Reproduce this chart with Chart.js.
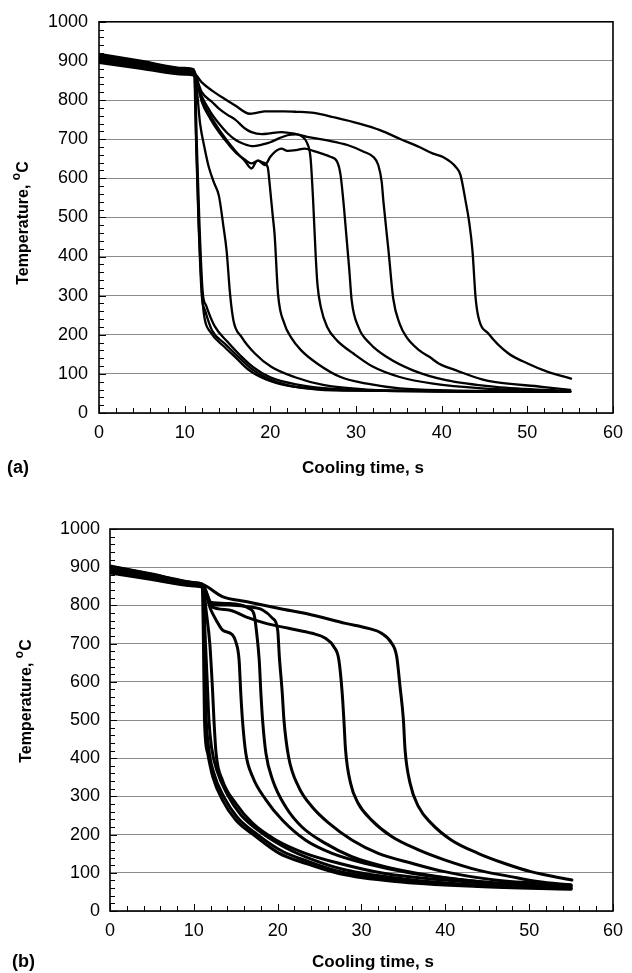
<!DOCTYPE html>
<html>
<head>
<meta charset="utf-8">
<script src="https://cdn.jsdelivr.net/npm/chart.js@4.4.1/dist/chart.umd.min.js"></script>
<style>
    html, body { margin: 0; padding: 0; background: #fff; }
    #wrap { position: relative; width: 632px; height: 973px; }
    .box { position: absolute; left: 0; width: 632px; }
</style>
</head>
<body>
<div id="wrap">
    <div class="box" style="top:0;height:490px"><canvas id="chartA"></canvas></div>
    <div class="box" style="top:490px;height:483px"><canvas id="chartB"></canvas></div>
</div>
<script>
"use strict";

/* axis labels */
var xLabels = [0, 10, 20, 30, 40, 50, 60];
var yLabels = [0, 100, 200, 300, 400, 500, 600, 700, 800, 900, 1000];

/* (a) cooling curves: [time s, temperature C] */
var a1 = [[0, 918], [5, 900], [10, 882], [11.1, 878], [11.3, 720], [11.6, 500], [12.0, 300], [12.4, 261], [13.2, 211], [14.7, 177], [16.3, 143], [17.8, 113], [19.7, 88], [22, 71], [25.5, 60], [31.3, 57], [40, 55], [55, 54]];
var a2 = [[0, 912], [5, 895], [10, 876], [11.2, 872], [11.4, 700], [11.7, 500], [12.1, 310], [12.5, 275], [13.5, 222], [15, 182], [16.5, 147], [18, 117], [20, 91], [23, 73], [27, 62], [35, 57], [45, 55], [55, 55]];
var a3 = [[0, 905], [5, 888], [10, 872], [11.15, 868], [11.35, 700], [11.65, 480], [12.05, 300], [12.3, 245], [13, 207], [14.5, 172], [16, 141], [17.5, 110], [19.5, 86], [22, 70], [26, 61], [35, 56], [55, 54]];
var a4 = [[0, 900], [5, 884], [10, 869], [11.1, 865], [11.3, 853], [11.8, 740], [12.3, 680], [12.8, 630], [13.4, 590], [14.0, 555], [14.5, 481], [14.9, 414], [15.3, 304], [15.7, 236], [16.65, 194], [18.2, 152], [20.1, 118], [22.8, 92], [26.3, 71], [31.3, 60], [40, 56], [55, 54]];
var a5 = [[0, 895], [5, 880], [10, 865], [11.1, 862], [12, 800], [13, 760], [14, 725], [15, 695], [16, 668], [17, 645], [17.8, 625], [18.5, 645], [19.2, 640], [19.7, 628], [19.9, 590], [20.1, 545], [20.3, 500], [20.5, 456], [20.9, 304], [21.65, 228], [22.4, 194], [23.6, 160], [25.5, 126], [28.2, 92], [31.3, 75], [35.1, 63], [40.9, 58], [55, 55]];
var a6 = [[0, 908], [5, 891], [10, 874], [11.1, 870], [12, 810], [13, 770], [14, 740], [15, 715], [16, 697], [17, 687], [18, 682], [19, 686], [20, 692], [21, 702], [22, 710], [23, 712], [23.8, 705], [24.3, 690], [24.7, 651], [25.0, 541], [25.3, 400], [25.5, 329], [25.9, 270], [26.65, 219], [27.8, 185], [29.7, 152], [32, 118], [35.1, 92], [39, 75], [44.7, 63], [50, 58], [55, 55]];
var a7 = [[0, 915], [5, 898], [10, 879], [11.1, 875], [12, 795], [13, 752], [14, 718], [15, 690], [16, 665], [17, 648], [17.8, 638], [18.6, 645], [19.35, 634], [20, 655], [20.5, 667], [21.3, 676], [22, 670], [23, 672], [24, 676], [25, 670], [26, 663], [27, 655], [27.8, 642], [28.2, 608], [28.6, 524], [29.2, 371], [29.5, 287], [30.3, 219], [31.65, 177], [33.6, 143], [36.65, 109], [40.5, 84], [46.3, 67], [55, 56]];
var a8 = [[0, 903], [5, 887], [10, 870], [11.1, 866], [12, 820], [13.2, 795], [14, 778], [15, 762], [15.9, 750], [17, 728], [17.8, 718], [19, 713], [19.7, 714], [21.3, 718], [22.8, 714], [24.3, 706], [26.65, 697], [29, 685], [30.9, 668], [32, 655], [32.6, 634], [33, 591], [33.2, 541], [33.8, 414], [34.35, 292], [35.1, 228], [35.9, 194], [37.4, 160], [38.6, 143], [39.7, 126], [41.7, 109], [44.7, 86], [46.3, 79], [51.7, 67], [55, 59]];
var a9 = [[0, 897], [5, 884], [10, 871], [11.1, 868], [12, 845], [13.2, 824], [14.5, 805], [15.9, 786], [17.6, 765], [18.5, 768], [19.35, 771], [21.65, 771], [23, 770], [25.1, 767], [27.4, 756], [30.5, 739], [32.8, 723], [35.1, 701], [37.4, 680], [39, 663], [40.1, 655], [41.65, 629], [42.2, 608], [42.8, 541], [43.2, 490], [43.6, 414], [43.96, 295], [44.3, 244], [45.5, 202], [47.8, 152], [50.1, 126], [52.4, 105], [55.1, 88]];

/* (b) cooling curves */
var b1 = [[0, 903], [5, 882], [10, 860], [11.0, 856], [11.15, 700], [11.27, 500], [11.65, 413], [12.25, 352], [13.4, 291], [15.0, 238], [17.4, 195], [20.2, 151], [23.3, 125], [27.3, 98], [34, 77], [43.9, 64], [55, 57]];
var b2 = [[0, 898], [5, 878], [10, 857], [11.05, 853], [11.25, 700], [11.4, 540], [11.75, 430], [12.4, 360], [13.6, 298], [15.2, 245], [17.6, 200], [20.5, 157], [23.6, 130], [27.6, 102], [34.5, 80], [44, 66], [55, 59]];
var b3 = [[0, 893], [5, 874], [10, 854], [11.1, 850], [11.35, 720], [11.6, 600], [11.8, 500], [12.1, 430], [12.8, 365], [14, 305], [15.6, 252], [18, 206], [21, 165], [24, 136], [28, 108], [35, 84], [44, 68], [55, 60]];
var b4 = [[0, 888], [5, 870], [10, 852], [11.1, 848], [11.5, 780], [11.9, 701], [12.25, 570], [12.4, 500], [12.65, 413], [13.4, 343], [15.0, 282], [17.0, 230], [19.8, 186], [23.3, 151], [27.3, 125], [32.8, 98], [39.9, 81], [47, 70], [55, 64]];
var b5 = [[0, 885], [5, 868], [10, 851], [11.1, 847], [12.0, 790], [12.65, 762], [13.4, 736], [14.6, 723], [15.0, 705], [15.4, 657], [15.6, 570], [15.8, 500], [16.2, 413], [17.0, 352], [18.6, 291], [20.55, 238], [23.3, 186], [26.5, 151], [30.4, 125], [36.0, 99], [43.9, 77], [55, 59]];
var b6 = [[0, 900], [5, 879], [10, 856], [11.1, 852], [12, 808], [14.2, 805], [16.6, 792], [17.2, 775], [17.5, 727], [17.8, 657], [18.0, 570], [18.2, 500], [18.6, 413], [19.4, 343], [20.95, 273], [22.9, 220], [25.7, 177], [28.85, 142], [32.8, 116], [37.9, 94], [43.9, 77], [55, 64]];
var b7 = [[0, 895], [5, 876], [10, 855], [11.1, 851], [12.25, 801], [14.2, 801], [16.2, 797], [18.2, 788], [19.4, 766], [20.0, 736], [20.2, 666], [20.55, 570], [20.75, 500], [21.3, 404], [22.5, 325], [24.1, 273], [26.1, 230], [28.85, 186], [32.0, 151], [36.0, 125], [39.9, 103], [45.9, 81], [55, 68]];
var b8 = [[0, 890], [5, 872], [10, 853], [11.1, 849], [12.06, 797], [14.2, 788], [16.2, 770], [18.6, 753], [21.3, 740], [24.1, 727], [25.7, 714], [26.7, 692], [27.3, 657], [27.7, 570], [27.9, 500], [28.1, 421], [28.7, 334], [29.6, 282], [31.2, 238], [33.6, 195], [36.8, 160], [39.9, 134], [43.9, 107], [47.8, 90], [51, 77], [55, 68]];
var b9 = [[0, 902], [5, 881], [10, 859], [11.07, 855], [13.4, 823], [16.2, 810], [20.2, 792], [24.1, 775], [28.1, 753], [30.8, 740], [32.4, 727], [33.6, 701], [34.2, 666], [34.6, 587], [35.0, 500], [35.2, 421], [35.8, 334], [36.8, 273], [38.3, 230], [40.7, 186], [43.9, 151], [47, 125], [50.2, 103], [55.1, 81]];

var FONT = '"Liberation Sans", Arial, Helvetica, sans-serif';

function toDatasets(curves, width) {
    return curves.map(function (c) {
        return {
            data: c.map(function (p) { return { x: p[0], y: p[1] }; }),
            borderColor: '#000',
            borderWidth: width,
            pointRadius: 0,
            fill: false,
            cubicInterpolationMode: 'monotone',
            borderJoinStyle: 'round',
            borderCapStyle: 'round'
        };
    });
}

function drawYTitle(ctx, cx, cy) {
    var big = 'bold 16px ' + FONT, small = 'bold 12px ' + FONT;
    ctx.font = big;
    var w1 = ctx.measureText('Temperature, ').width;
    var w3 = ctx.measureText('C').width;
    ctx.font = small;
    var w2 = ctx.measureText('o').width;
    var x0 = -(w1 + w2 + w3) / 2;
    ctx.save();
    ctx.translate(cx, cy);
    ctx.rotate(-Math.PI / 2);
    ctx.textAlign = 'left';
    ctx.textBaseline = 'middle';
    ctx.fillStyle = '#000';
    ctx.font = big;
    ctx.fillText('Temperature, ', x0, 0);
    ctx.font = small;
    ctx.fillText('o', x0 + w1, -7);
    ctx.font = big;
    ctx.fillText('C', x0 + w1 + w2, 0);
    ctx.restore();
}

/* inward ticks, frame and titles */
var framePlugin = {
    id: 'frame',
    afterDraw: function (chart, args, opts) {
        var ctx = chart.ctx, a = chart.chartArea;
        var xs = chart.scales.x, ys = chart.scales.y;
        ctx.save();
        ctx.strokeStyle = '#000';
        ctx.lineWidth = 1;
        ctx.beginPath();
        xs.ticks.forEach(function (t) {
            var px = Math.round(xs.getPixelForValue(t.value)) + 0.5;
            var len = xLabels.indexOf(t.value) >= 0 ? 7 : 5;
            ctx.moveTo(px, a.bottom);
            ctx.lineTo(px, a.bottom - len);
        });
        ys.ticks.forEach(function (t) {
            var py = Math.round(ys.getPixelForValue(t.value)) + 0.5;
            var len = yLabels.indexOf(t.value) >= 0 ? 7 : 5;
            ctx.moveTo(a.left, py);
            ctx.lineTo(a.left + len, py);
        });
        ctx.stroke();
        ctx.lineWidth = 1.6;
        ctx.strokeRect(a.left, a.top, a.right - a.left, a.bottom - a.top);

        ctx.fillStyle = '#000';
        ctx.textBaseline = 'middle';
        ctx.font = 'bold 17px ' + FONT;
        ctx.textAlign = 'center';
        ctx.fillText('Cooling time, s', opts.xTitle[0], opts.xTitle[1]);
        ctx.font = 'bold 18px ' + FONT;
        ctx.textAlign = 'left';
        ctx.fillText(opts.panel, opts.panelPos[0], opts.panelPos[1]);
        ctx.restore();
        drawYTitle(ctx, opts.yTitle[0], opts.yTitle[1]);
    }
};

function makeOptions(cfg) {
    return {
        responsive: true,
        maintainAspectRatio: false,
        animation: false,
        layout: { padding: { top: cfg.padTop, right: cfg.padRight, left: 0, bottom: 0 } },
        plugins: {
            legend: { display: false },
            tooltip: { enabled: false },
            frame: cfg.frame
        },
        scales: {
            x: {
                type: 'linear',
                min: 0,
                max: 60,
                grid: { display: false, drawTicks: false },
                border: { display: false },
                ticks: {
                    stepSize: 2,
                    autoSkip: false,
                    maxRotation: 0,
                    padding: 9,
                    color: '#000',
                    font: { family: FONT, size: 18 },
                    callback: function (v) { return xLabels.indexOf(v) >= 0 ? String(v) : ''; }
                },
                afterFit: function (s) { s.height = cfg.xHeight; }
            },
            y: {
                min: 0,
                max: 1000,
                grid: {
                    drawTicks: false,
                    lineWidth: 1,
                    color: function (c) {
                        return (c.tick && yLabels.indexOf(c.tick.value) >= 0) ? '#8a8a8a' : 'rgba(0,0,0,0)';
                    }
                },
                border: { display: false },
                ticks: {
                    stepSize: 20,
                    autoSkip: false,
                    padding: cfg.yPad,
                    color: '#000',
                    font: { family: FONT, size: 18 },
                    callback: function (v) { return yLabels.indexOf(v) >= 0 ? String(v) : ''; }
                },
                afterFit: function (s) { s.width = cfg.yWidth; }
            }
        }
    };
}

document.addEventListener("DOMContentLoaded", function () {
    new Chart(document.getElementById('chartA').getContext('2d'), {
        type: 'line',
        data: { datasets: toDatasets([a1, a2, a3, a4, a5, a6, a7, a8, a9], 2.3) },
        options: makeOptions({
            padTop: 19, padRight: 13, xHeight: 77, yWidth: 99, yPad: 11,
            frame: { xTitle: [363, 468], yTitle: [24, 223], panel: '(a)', panelPos: [7, 468] }
        }),
        plugins: [framePlugin]
    });

    new Chart(document.getElementById('chartB').getContext('2d'), {
        type: 'line',
        data: { datasets: toDatasets([b1, b2, b3, b4, b5, b6, b7, b8, b9], 3) },
        options: makeOptions({
            padTop: 39, padRight: 16, xHeight: 62, yWidth: 110, yPad: 10,
            frame: { xTitle: [373, 472], yTitle: [27, 211], panel: '(b)', panelPos: [12, 472] }
        }),
        plugins: [framePlugin]
    });
});
</script>
</body>
</html>
